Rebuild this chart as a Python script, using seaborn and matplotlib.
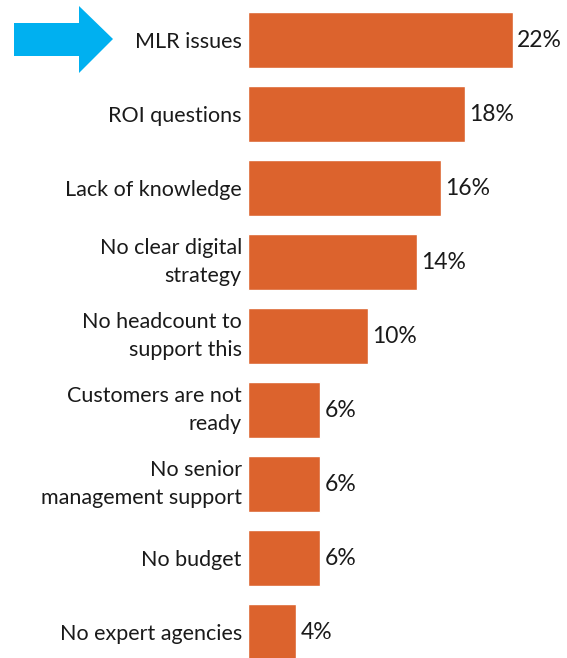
import matplotlib
matplotlib.use("Agg")
import matplotlib.pyplot as plt
from matplotlib.patches import Polygon
import seaborn as sns
import pandas as pd

categories = [
    "MLR issues",
    "ROI questions",
    "Lack of knowledge",
    "No clear digital\nstrategy",
    "No headcount to\nsupport this",
    "Customers are not\nready",
    "No senior\nmanagement support",
    "No budget",
    "No expert agencies",
]
values = [22, 18, 16, 14, 10, 6, 6, 6, 4]
value_labels = ["22%", "18%", "16%", "14%", "10%", "6%", "6%", "6%", "4%"]

BAR_COLOR = "#DC632D"
TEXT_COLOR = "#1A1A1A"
ARROW_COLOR = "#00B0F0"

sns.set_theme(style="white")
plt.rcParams["font.family"] = ["Lato", "DejaVu Sans"]

W, H = 567, 658
fig = plt.figure(figsize=(W / 100, H / 100), dpi=100)
ax = fig.add_axes([248 / W, 0, 1 - 248 / W, 1 - 3 / H])

df = pd.DataFrame({"reason": categories, "share": values})
sns.barplot(data=df, y="reason", x="share", orient="h", color=BAR_COLOR,
            saturation=1, width=0.76, ax=ax)

ax.set_xlim(0, 26.5)
ax.set_ylim(8.35, -0.5)
ax.set_xlabel("")
ax.set_ylabel("")
ax.set_xticks([])
sns.despine(ax=ax, left=True, bottom=True)
ax.tick_params(axis="y", length=0, pad=4.5)
for lbl in ax.get_yticklabels():
    lbl.set_fontsize(15.5)
    lbl.set_color(TEXT_COLOR)
    lbl.set_linespacing(1.55)
    if "\n" in lbl.get_text():
        lbl.set_verticalalignment("center")

ax.bar_label(ax.containers[0], labels=value_labels, padding=3,
             fontsize=16.5, color=TEXT_COLOR)

# highlight arrow pointing at the top reason
pts = [(14, 23), (79, 23), (79, 6), (113, 39), (79, 73), (79, 56), (14, 56)]
arrow = Polygon([(x / W, 1 - y / H) for x, y in pts], closed=True,
                transform=fig.transFigure, facecolor=ARROW_COLOR,
                edgecolor="none")
fig.patches.append(arrow)

fig.savefig("out.png", dpi=100)
